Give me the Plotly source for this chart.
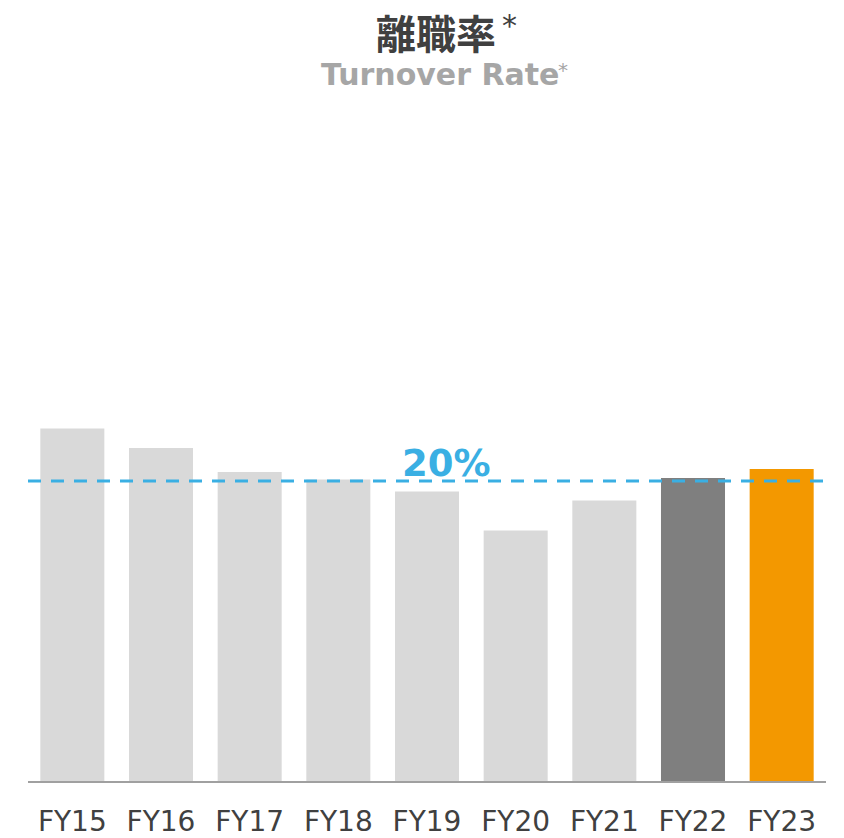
import plotly.graph_objects as go

# Fiscal years and turnover rate (%)
years = ["FY15", "FY16", "FY17", "FY18", "FY19", "FY20", "FY21", "FY22", "FY23"]
rates = [23.5, 22.2, 20.6, 20.1, 19.3, 16.7, 18.7, 20.2, 20.8]
bar_colors = ["#D9D9D9"] * 7 + ["#7F7F7F", "#F39800"]

target = 20  # reference line
target_label = "20%"

title_jp = "離職率"
title_en = "Turnover Rate"
footnote_mark = "*"

fig = go.Figure()

fig.add_bar(
    x=years,
    y=rates,
    marker=dict(color=bar_colors, line=dict(width=0)),
    hoverinfo="x+y",
    showlegend=False,
)

# Dashed 20% line over the bars
fig.add_shape(
    type="line",
    xref="paper",
    yref="y",
    x0=0,
    x1=1.005,
    y0=target,
    y1=target,
    line=dict(color="#3AAFE3", width=3, dash="13px,10px"),
    layer="above",
)

fig.add_annotation(
    x=0.525,
    xref="paper",
    y=target,
    yref="y",
    text="<b>" + target_label + "</b>",
    showarrow=False,
    yanchor="middle",
    yshift=18,
    font=dict(family="DejaVu Sans", size=37, color="#3AAFE3"),
)

# Titles (positions in paper units: plot area is 600px tall, 798px wide)
fig.add_annotation(
    x=0.511,
    xref="paper",
    y=1.248,
    yref="paper",
    text="<b>" + title_jp + "</b>",
    showarrow=False,
    yanchor="middle",
    borderpad=0,
    font=dict(family="Noto Sans CJK JP", size=40, color="#404040"),
)
fig.add_annotation(
    x=0.604,
    xref="paper",
    y=1.26,
    yref="paper",
    text=footnote_mark,
    showarrow=False,
    yanchor="middle",
    borderpad=0,
    font=dict(family="DejaVu Sans", size=30, color="#404040"),
)
fig.add_annotation(
    x=0.5157,
    xref="paper",
    y=1.177,
    yref="paper",
    text="<b>" + title_en + "</b>",
    showarrow=False,
    yanchor="middle",
    borderpad=0,
    font=dict(family="DejaVu Sans", size=30, color="#A6A6A6"),
)
fig.add_annotation(
    x=0.678,
    xref="paper",
    y=1.185,
    yref="paper",
    text=footnote_mark,
    showarrow=False,
    yanchor="middle",
    borderpad=0,
    font=dict(family="DejaVu Sans", size=20, color="#A6A6A6"),
)

# page body has an 8px margin, so the figure is shrunk by that much
fig.update_layout(
    width=836,
    height=830,
    margin=dict(l=20, r=18, t=173, b=57),
    paper_bgcolor="white",
    plot_bgcolor="white",
    bargap=0.278,
    xaxis=dict(
        showline=True,
        linecolor="#A0A0A0",
        linewidth=2,
        showgrid=False,
        ticks="outside",
        ticklen=0,
        ticklabelstandoff=14,
        automargin=False,
        tickfont=dict(family="DejaVu Sans", size=28, color="#404040"),
    ),
    yaxis=dict(
        range=[0, 40],
        visible=False,
        showgrid=False,
        zeroline=False,
    ),
)

fig.write_html("out.html")
